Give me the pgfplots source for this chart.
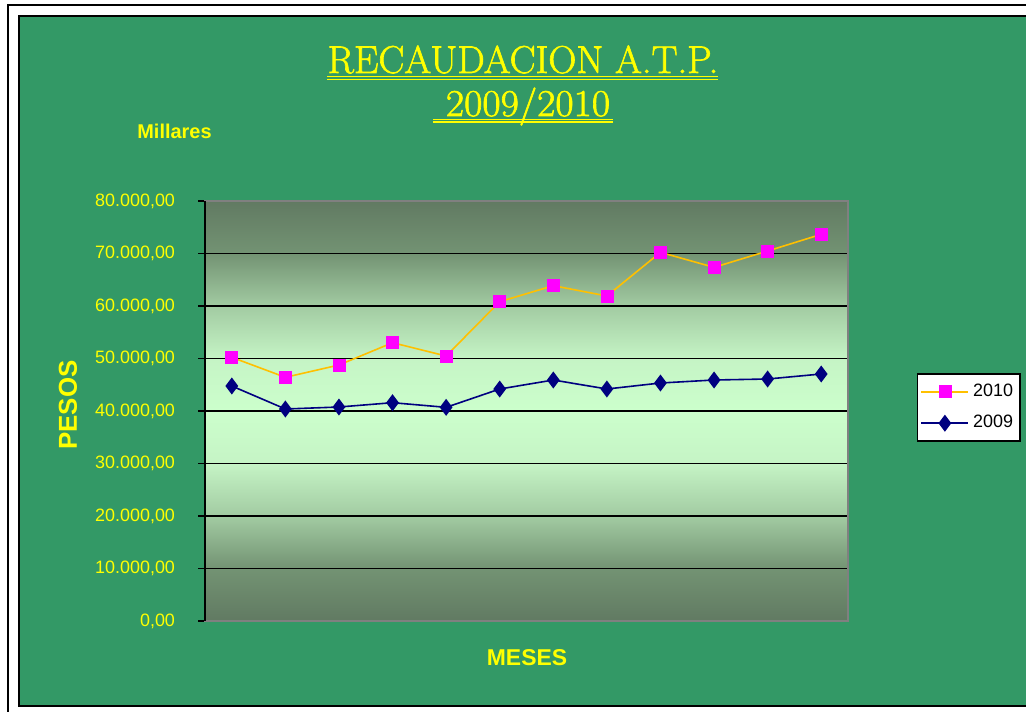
\documentclass[border=0pt]{standalone}
\usepackage{pgfplots}
\pgfplotsset{compat=1.18}
\usepackage{fontspec}
\newfontfamily\arial{Liberation Sans}
\newfontfamily\titlefont{Latin Modern Roman}[FakeBold=1.6]
\definecolor{bggreen}{HTML}{339966}
\definecolor{dk}{HTML}{617A62}
\definecolor{c70}{HTML}{739373}
\definecolor{c60}{HTML}{A2CBA2}
\definecolor{c50}{HTML}{C5F4C5}
\definecolor{lt}{HTML}{CCFFCC}
\definecolor{gold}{HTML}{FFC000}
\definecolor{navy}{HTML}{000080}
\definecolor{mag}{RGB}{255,0,255}
\definecolor{yel}{RGB}{255,255,0}
\pgfdeclareverticalshading{plotbg}{100bp}{color(0bp)=(dk); color(25bp)=(dk); color(31.25bp)=(c70); color(37.5bp)=(c60); color(43.75bp)=(c50); color(50bp)=(lt); color(56.25bp)=(c50); color(62.5bp)=(c60); color(68.75bp)=(c70); color(75bp)=(dk); color(100bp)=(dk)}
\pgfplotstableread{
x y
0.5 50226
1.5 46419
2.5 48762
3.5 53010
4.5 50476
5.5 60825
6.5 63873
7.5 61905
8.5 70222
9.5 67365
10.5 70476
11.5 73651
}\tabA
\pgfplotstableread{
x y
0.5 44762
1.5 40381
2.5 40762
3.5 41583
4.5 40698
5.5 44190
6.5 45905
7.5 44190
8.5 45333
9.5 45905
10.5 46095
11.5 47048
}\tabB
\begin{document}
\begin{tikzpicture}
\useasboundingbox (0,0) rectangle (513bp,356bp);
\fill[white] (0,0) rectangle (513bp,356bp);
\draw[black, line width=0.8bp] (4bp,-2bp) -- (4bp,353.5bp) -- (520bp,353.5bp);
\fill[bggreen, draw=black, line width=1bp] (9.5bp,3bp) rectangle (520bp,348bp);
\begin{axis}[
  at={(102.5bp,45.5bp)}, anchor=south west,
  width=321.5bp, height=210bp, scale only axis,
  xmin=0, xmax=12, ymin=0, ymax=80000,
  xtick=\empty, ytick={0,10000,...,80000},
  scaled y ticks=false,
  ymajorgrids, major grid style={black, line width=0.7bp},
  ytick pos=left, tick align=outside, major tick length=3.5bp,
  tick style={black, line width=0.8bp},
  axis line style={draw=gray, line width=0.9bp},
  axis background/.style={shade, shading=plotbg},
  yticklabel style={font=\arial\fontsize{9}{10}\selectfont, text=yel, xshift=-8bp,
    /pgf/number format/.cd, fixed, fixed zerofill, precision=2, use comma, 1000 sep={.}, assume math mode=true},
  legend style={at={(1.107,0.59)}, anchor=north west, draw=black, fill=white, line width=0.8bp,
    font=\arial\fontsize{9}{10}\selectfont, inner xsep=1.5bp, inner ysep=3bp, row sep=4bp},
  legend cell align=left,
  legend image code/.code={\draw[mark repeat=2, mark phase=2] plot coordinates {(0bp,0bp) (11.75bp,0bp) (23.5bp,0bp)};},
  clip=false,
  after end axis/.code={\draw[black, line width=0.9bp] (rel axis cs:0,0) -- (rel axis cs:0,1);},
]
\addplot[gold, line width=0.8bp, mark=square*, mark size=3bp, mark options={fill=mag, draw=mag, line width=0.3bp}] table[x=x,y=y] {\tabA};
\addlegendentry{2010}
\addplot[navy, line width=0.8bp, mark=diamond*, mark size=3.6bp, mark options={fill=navy, draw=navy}] table[x=x,y=y] {\tabB};
\addlegendentry{2009}
\end{axis}
\node[font=\titlefont\fontsize{19.5}{20}\selectfont, text=yel, anchor=base] at (261.5bp,319.5bp) {RECAUDACION A.T.P.};
\draw[yel, line width=0.55bp] (163.5bp,317.8bp) -- (359bp,317.8bp);
\draw[yel, line width=0.55bp] (163.5bp,316.3bp) -- (359bp,316.3bp);
\node[font=\titlefont\fontsize{19}{20}\selectfont, text=yel, xscale=1.05, anchor=base] at (264bp,298bp) {2009/2010};
\draw[yel, line width=0.55bp] (216.5bp,296.4bp) -- (306.5bp,296.4bp);
\draw[yel, line width=0.55bp] (216.5bp,295bp) -- (306.5bp,295bp);
\node[font=\arial\bfseries\fontsize{10}{12}\selectfont, text=yel, anchor=base west, inner sep=0pt] at (68.5bp,286.5bp) {Millares};
\node[font=\arial\bfseries\fontsize{13}{15}\selectfont, text=yel, rotate=90, inner sep=0pt] at (34bp,153.5bp) {PESOS};
\node[font=\arial\bfseries\fontsize{11.5}{13}\selectfont, text=yel, inner sep=0pt] at (263.5bp,27bp) {MESES};
\end{tikzpicture}
\end{document}
